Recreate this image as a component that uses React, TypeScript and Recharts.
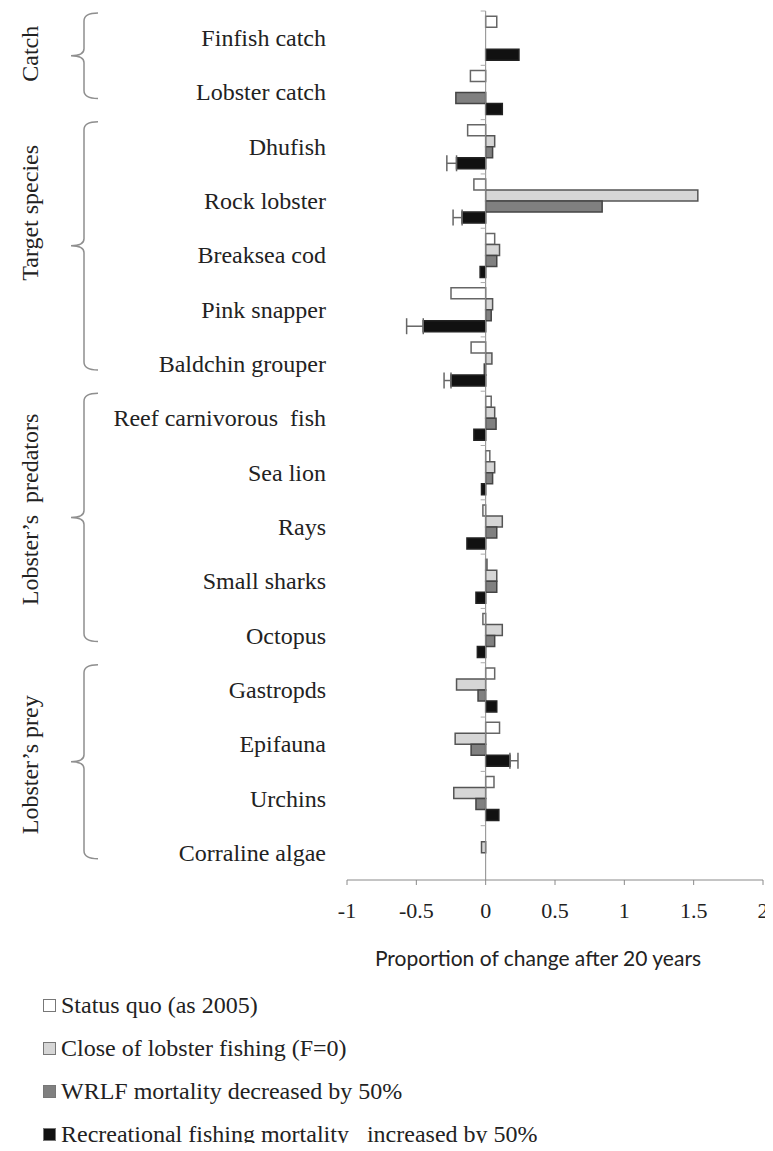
import React from "react";
import { BarChart, Bar, XAxis, YAxis, ReferenceLine, ErrorBar } from "recharts";

const categories = [
  "Finfish catch",
  "Lobster catch",
  "Dhufish",
  "Rock lobster",
  "Breaksea cod",
  "Pink snapper",
  "Baldchin grouper",
  "Reef carnivorous  fish",
  "Sea lion",
  "Rays",
  "Small sharks",
  "Octopus",
  "Gastropds",
  "Epifauna",
  "Urchins",
  "Corraline algae",
];

const statusQuo = [0.08, -0.11, -0.13, -0.085, 0.065, -0.25, -0.105, 0.04, 0.03, -0.02, 0.01, -0.02, 0.065, 0.1, 0.06, 0];
const closeFishing = [0, 0, 0.065, 1.53, 0.1, 0.05, 0.045, 0.065, 0.065, 0.12, 0.08, 0.12, -0.21, -0.22, -0.23, -0.03];
const wrlfDecrease = [0, -0.215, 0.05, 0.84, 0.08, 0.04, -0.01, 0.075, 0.05, 0.08, 0.08, 0.065, -0.055, -0.105, -0.07, 0];
const recreationalIncrease = [0.24, 0.12, -0.21, -0.17, -0.04, -0.45, -0.25, -0.085, -0.03, -0.135, -0.07, -0.06, 0.08, 0.175, 0.095, 0];
const recreationalError = [null, null, 0.07, 0.065, null, 0.12, 0.05, null, null, null, null, null, null, 0.058, null, null];

const groupNames = ["Catch", "Target species", "Lobster\u2019s  predators", "Lobster\u2019s prey"];
const groupSizes = [2, 5, 5, 4];

const xTicks = [-1, -0.5, 0, 0.5, 1, 1.5, 2];

const seriesNames = [
  "Status quo (as 2005)",
  "Close of lobster fishing (F=0)",
  "WRLF mortality decreased by 50%",
  "Recreational fishing mortality   increased by 50%",
];
const seriesFills = ["#ffffff", "#d6d6d6", "#808080", "#111111"];

const data = categories.map((name, i) => {
  const err = recreationalError[i];
  return {
    name,
    statusQuo: statusQuo[i],
    close: closeFishing[i],
    wrlf: wrlfDecrease[i],
    rec: recreationalIncrease[i],
    recErr: err == null ? null : recreationalIncrease[i] < 0 ? [err, 0] : [0, err],
  };
});

const SERIF = "'Liberation Serif', 'Times New Roman', serif";
const CHART_W = 765;
const CHART_H = 970;
const MARGIN = { top: 3, right: 10, left: 0, bottom: 0 };
const Y_AXIS_W = 339;
const X_AXIS_H = 98;
const PLOT_H = CHART_H - MARGIN.top - X_AXIS_H;
const PLOT_W = CHART_W - MARGIN.left - MARGIN.right - Y_AXIS_W;
const STEP = PLOT_H / categories.length;
const ZERO_X = MARGIN.left + Y_AXIS_W + (PLOT_W * 1) / 3;

// first category index of each group
const groupStarts = groupSizes.map((_, g) => groupSizes.slice(0, g).reduce((a, b) => a + b, 0));
// group titles sit a bit off the brace tip in the original
const groupLabelShift = [-2, -33, -8, 3];

function CategoryTick(props: any) {
  const { x, y, payload, index } = props;
  const g = groupStarts.indexOf(index);
  let brace = null;
  if (g >= 0) {
    const top = y - STEP / 2 + 2;
    const bottom = y + (groupSizes[g] - 1) * STEP + 6;
    const mid = (top + bottom) / 2;
    const ly = mid + groupLabelShift[g];
    const xl = 76;
    const xe = 90;
    const xm = 63;
    const d = `M ${xe} ${top} Q ${xl} ${top} ${xl} ${top + 8} L ${xl} ${mid - 7} Q ${xl} ${mid} ${xm} ${mid} Q ${xl} ${mid} ${xl} ${mid + 7} L ${xl} ${bottom - 8} Q ${xl} ${bottom} ${xe} ${bottom}`;
    brace = (
      <g>
        <path d={d} fill="none" stroke="#8f8f8f" strokeWidth={1.5} />
        <text
          x={22}
          y={ly}
          transform={`rotate(-90 22 ${ly})`}
          textAnchor="middle"
          dominantBaseline="central"
          fontFamily={SERIF}
          fontSize={24}
          fill="#222"
          style={{ whiteSpace: "pre" }}
        >
          {groupNames[g]}
        </text>
      </g>
    );
  }
  return (
    <g>
      {brace}
      <line x1={ZERO_X - 5} x2={ZERO_X} y1={y - STEP / 2} y2={y - STEP / 2} stroke="#aaa" />
      <text
        x={x}
        y={y}
        textAnchor="end"
        dominantBaseline="central"
        fontFamily={SERIF}
        fontSize={24}
        fill="#222"
        style={{ whiteSpace: "pre" }}
      >
        {payload.value}
      </text>
    </g>
  );
}

export default function App() {
  return (
    <div style={{ width: CHART_W, height: 1143, marginBottom: -8, overflow: "hidden", position: "relative" }}>
      <BarChart
        width={CHART_W}
        height={CHART_H}
        data={data}
        layout="vertical"
        margin={MARGIN}
        barCategoryGap="9.5%"
        barGap={0}
      >
        <XAxis
          type="number"
          domain={[-1, 2]}
          ticks={xTicks}
          allowDataOverflow
          height={X_AXIS_H}
          axisLine={{ stroke: "#8a8a8a" }}
          tickLine={{ stroke: "#8a8a8a" }}
          tickSize={5}
          tickMargin={17}
          tick={{ fontFamily: SERIF, fontSize: 22, fill: "#222" }}
          label={{
            value: "Proportion of change after 20 years",
            position: "insideBottom",
            offset: 12,
            dx: -17,
            style: { fontFamily: "Lato, 'Open Sans', sans-serif", fontSize: 21, fill: "#222" },
          }}
        />
        <YAxis
          type="category"
          dataKey="name"
          width={Y_AXIS_W}
          axisLine={false}
          tickLine={false}
          tickSize={0}
          tickMargin={21}
          interval={0}
          tick={CategoryTick}
        />
        <ReferenceLine x={0} stroke="#8a8a8a" />
        <Bar dataKey="statusQuo" name={seriesNames[0]} fill={seriesFills[0]} stroke="#666" strokeWidth={1.5} isAnimationActive={false} />
        <Bar dataKey="close" name={seriesNames[1]} fill={seriesFills[1]} stroke="#555" strokeWidth={1.5} isAnimationActive={false} />
        <Bar dataKey="wrlf" name={seriesNames[2]} fill={seriesFills[2]} stroke="#444" strokeWidth={1.5} isAnimationActive={false} />
        <Bar dataKey="rec" name={seriesNames[3]} fill={seriesFills[3]} stroke="#222" strokeWidth={1.5} isAnimationActive={false}>
          <ErrorBar dataKey="recErr" direction="x" width={8} stroke="#666" strokeWidth={1.5} />
        </Bar>
      </BarChart>
      <div style={{ paddingTop: 6, marginLeft: 35, fontFamily: SERIF, fontSize: 24, color: "#222" }}>
        {seriesNames.map((s, i) => (
          <div key={s} style={{ height: 43, display: "flex", alignItems: "center", whiteSpace: "pre" }}>
            <span
              style={{
                display: "inline-block",
                width: 11,
                height: 11,
                background: seriesFills[i],
                border: "1.5px solid #777",
                marginRight: 5,
              }}
            />
            {s}
          </div>
        ))}
      </div>
    </div>
  );
}
